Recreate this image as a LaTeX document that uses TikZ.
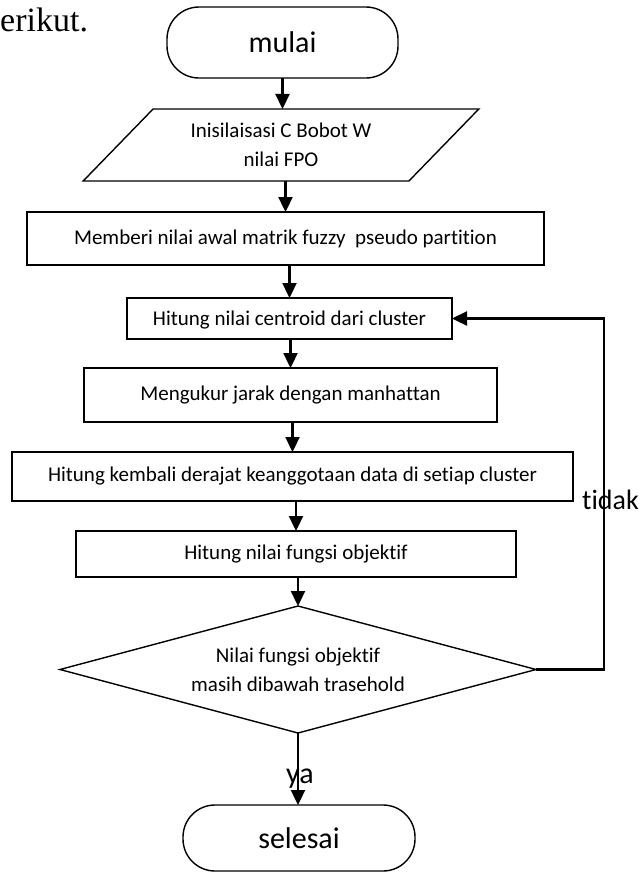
\documentclass[tikz,border=0pt]{standalone}
\usepackage{fontspec}
\setmainfont{Carlito}[Ligatures=NoCommon]
\newfontfamily\timesfont{Liberation Serif}
\usepackage{tikz}
\usetikzlibrary{shapes.geometric,arrows.meta,positioning,calc}

\begin{document}
\begin{tikzpicture}[
    x=1pt, y=-1pt,
    box/.style={rectangle, draw, line width=1.4pt, inner sep=0pt, outer sep=0pt, text centered, font=\fontsize{21}{29}\selectfont},
    term/.style={box, rounded corners=32pt, font=\fontsize{30}{36}\selectfont},
    io/.style={box, trapezium, trapezium left angle=41.5, trapezium right angle=138.5, trapezium stretches=true, align=center},
    decision/.style={box, diamond, aspect=3.75, align=center},
    arr/.style={line width=2.3pt, -{Triangle[length=15pt,width=14pt]}},
    lbl/.style={inner sep=0pt, anchor=base west, font=\fontsize{30}{36}\selectfont}
]
    \useasboundingbox (0,0) rectangle (642,873);

    % Page text
    \node[lbl, font=\timesfont\fontsize{34}{40}\selectfont] (prev) at (0,31) {erikut.};

    % Flow nodes
    \node[term, minimum width=231pt, minimum height=71pt] (mulai) at (282.5,42.5) {mulai};
    \node[io, minimum width=396pt, minimum height=72pt] (init) at (281,145) {Inisilaisasi C Bobot W\\nilai FPO};
    \node[box, minimum width=517pt, minimum height=53pt] (awal) at (285.5,238.5) {Memberi nilai awal matrik fuzzy\ \ pseudo partition};
    \node[box, minimum width=325pt, minimum height=41pt, text depth=0pt] (centroid) at (289.5,318.5) {Hitung nilai centroid dari cluster};
    \node[box, minimum width=413pt, minimum height=54pt] (jarak) at (290.5,395) {Mengukur jarak dengan manhattan};
    \node[box, minimum width=561pt, minimum height=49pt] (derajat) at (292.5,476.5) {Hitung kembali derajat keanggotaan data di setiap cluster};
    \node[box, minimum width=440pt, minimum height=46pt] (fungsi) at (296,554) {Hitung nilai fungsi objektif};
    \node[decision, minimum width=476pt, minimum height=127pt] (cek) at (298,669.5) {Nilai fungsi objektif\\masih dibawah trasehold};
    \node[term, minimum width=232pt, minimum height=66pt] (selesai) at (299,838) {selesai};

    % Arrows
    \draw[arr] (mulai.south) -- (mulai.south |- init.north);
    \draw[arr] (awal.north |- init.south) -- (awal.north);
    \draw[arr] (centroid.north |- awal.south) -- (centroid.north);
    \draw[arr] (jarak.north |- centroid.south) -- (jarak.north);
    \draw[arr] (derajat.north |- jarak.south) -- (derajat.north);
    \draw[arr] (fungsi.north |- derajat.south) -- (fungsi.north);
    \draw[arr] (cek.north |- fungsi.south) -- (cek.north);
    \draw[arr] (cek.south) -- (cek.south |- selesai.north);

    % Loop back
    \coordinate (balik) at (604,669.5);
    \draw[arr] (cek.east) -- (balik) |- (centroid.east);

    % Labels
    \node[lbl, font=\fontsize{28}{34}\selectfont] (tidak) at (582,509) {tidak};
    \node[lbl] (ya) at (286,783) {ya};
\end{tikzpicture}
\end{document}
